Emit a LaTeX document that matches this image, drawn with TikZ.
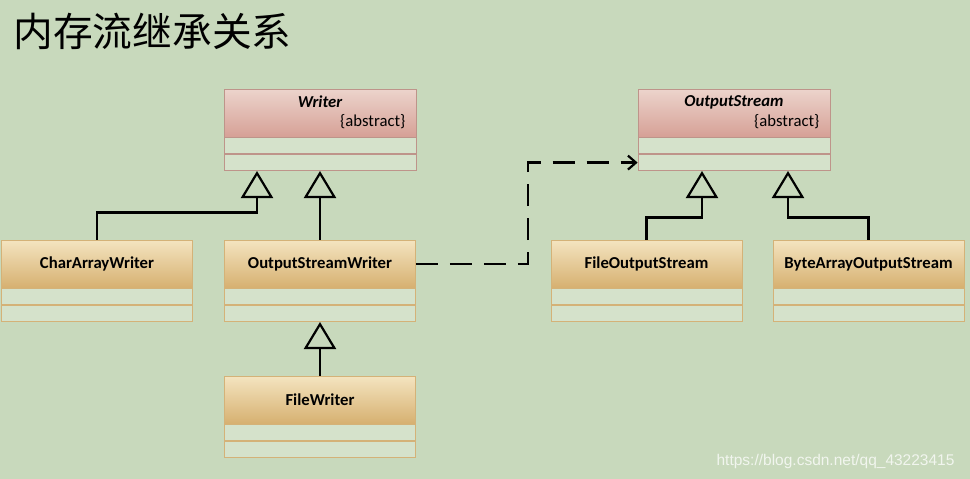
\documentclass[tikz,border=0pt]{standalone}
\usepackage{fontspec}
\setmainfont{Carlito}
\newfontfamily\cjkfont{Noto Sans CJK SC}
\newfontfamily\wmfont{Liberation Sans}
\usetikzlibrary{arrows.meta}

\definecolor{bggreen}{RGB}{200,217,188}
\definecolor{slotgreen}{RGB}{213,226,203}
\definecolor{pinktop}{RGB}{236,212,204}
\definecolor{pinkbot}{RGB}{214,160,150}
\definecolor{pinkline}{RGB}{190,148,138}
\definecolor{orangetop}{RGB}{244,228,192}
\definecolor{orangebot}{RGB}{214,176,112}
\definecolor{orangeline}{RGB}{212,178,120}

\tikzset{
  pinkhead/.style={draw=pinkline, line width=0.8pt, top color=pinktop, bottom color=pinkbot,
    minimum width=192pt, minimum height=48pt, inner sep=0pt},
  orangehead/.style={draw=orangeline, line width=0.8pt, top color=orangetop, bottom color=orangebot,
    minimum width=191pt, minimum height=48pt, inner sep=0pt, font=\fontsize{16.7}{19}\selectfont\bfseries},
  pinkslot/.style={draw=pinkline, line width=0.8pt, fill=slotgreen,
    minimum width=192pt, minimum height=16pt, inner sep=0pt, anchor=north},
  orangeslot/.style={draw=orangeline, line width=0.8pt, fill=slotgreen,
    minimum width=191pt, minimum height=16pt, inner sep=0pt, anchor=north},
  gen/.style={line width=2.6pt, -{Triangle[open, length=27pt, width=32pt, line width=2.2pt]}},
  dep/.style={line width=2.8pt, dash pattern=on 22pt off 12pt, -{Straight Barb[length=8pt, width=14pt, line width=2.2pt]}}
}

\begin{document}
\begin{tikzpicture}[x=1pt, y=-1pt]
  \fill[bggreen] (0,0) rectangle (970,479);
  \useasboundingbox (0,0) rectangle (970,479);

  \node[anchor=base west, font=\cjkfont\fontsize{39.7}{42}\selectfont] (title) at (10,46) {内存流继承关系};

  \node[pinkhead] (w) at (320,113) {};
  \node[font=\fontsize{16.7}{19}\selectfont\bfseries\itshape] (wname) at (320,102) {Writer};
  \node[anchor=east, font=\fontsize{16.7}{19}\selectfont] (wabs) at (409,122) {\{abstract\}};
  \node[pinkslot] (w1) at (w.south) {};
  \node[pinkslot] (w2) at (w1.south) {};

  \node[pinkhead] (os) at (734,113) {};
  \node[font=\fontsize{16.7}{19}\selectfont\bfseries\itshape] (osname) at (734,102) {OutputStream};
  \node[anchor=east, font=\fontsize{16.7}{19}\selectfont] (osabs) at (823,122) {\{abstract\}};
  \node[pinkslot] (os1) at (os.south) {};
  \node[pinkslot] (os2) at (os1.south) {};

  \node[orangehead] (caw) at (97,264) {CharArrayWriter};
  \node[orangeslot] (caw1) at (caw.south) {};
  \node[orangeslot] (caw2) at (caw1.south) {};

  \node[orangehead] (osw) at (320,264) {OutputStreamWriter};
  \node[orangeslot] (osw1) at (osw.south) {};
  \node[orangeslot] (osw2) at (osw1.south) {};

  \node[orangehead] (fw) at (320,400) {FileWriter};
  \node[orangeslot] (fw1) at (fw.south) {};
  \node[orangeslot] (fw2) at (fw1.south) {};

  \node[orangehead] (fos) at (646.5,264) {FileOutputStream};
  \node[orangeslot] (fos1) at (fos.south) {};
  \node[orangeslot] (fos2) at (fos1.south) {};

  \node[orangehead] (baos) at (868.5,264) {ByteArrayOutputStream};
  \node[orangeslot] (baos1) at (baos.south) {};
  \node[orangeslot] (baos2) at (baos1.south) {};

  \draw[gen] (caw.north) -- ([yshift=27pt]caw.north) -| ([xshift=-63pt]w2.south);
  \draw[gen] (osw.north) -- (w2.south);
  \draw[gen] (fw.north) -- (osw2.south);
  \draw[gen] (fos.north) -- ([yshift=22pt]fos.north) -| ([xshift=-32pt]os2.south);
  \draw[gen] (baos.north) -- ([yshift=22pt]baos.north) -| ([xshift=54pt]os2.south);
  \draw[dep] (osw.east) -- ++(112,0) |- (os2.west);

  \node[anchor=base east, text=white, opacity=0.75, font=\wmfont\fontsize{15.5}{18}\selectfont] (mark) at (958,465) {https://blog.csdn.net/qq\_43223415};
\end{tikzpicture}
\end{document}
